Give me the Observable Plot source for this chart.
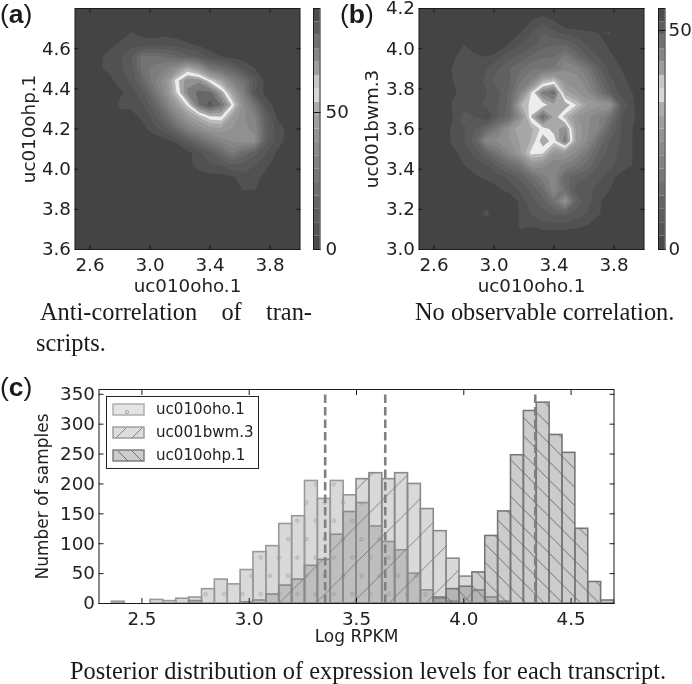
<!DOCTYPE html>
<html><head><meta charset="utf-8">
<script src="https://cdn.jsdelivr.net/npm/d3@7"></script>
<script src="https://cdn.jsdelivr.net/npm/@observablehq/plot@0.6"></script>
<style>
html,body{margin:0;padding:0;background:#fff;}
body{width:692px;height:684px;overflow:hidden;position:relative;filter:blur(0.3px);}
.abs{position:absolute;}
.abs svg{display:block;overflow:visible;max-width:none!important;}
.cap{position:absolute;font-family:"Liberation Serif",serif;font-size:24.4px;color:#1a1a1a;line-height:31px;white-space:nowrap;}
.tag{position:absolute;font-family:"Liberation Sans",sans-serif;font-size:26.5px;color:#1a1a1a;line-height:28px;}
.legend{position:absolute;left:106px;top:396px;width:151px;height:71px;background:#fff;border:1.2px solid #222;font-family:"DejaVu Sans",sans-serif;font-size:15.1px;color:#222;}
.legend svg{position:absolute;left:5px;}
.legend span{position:absolute;left:49px;white-space:nowrap;}
</style></head><body>
<svg width="0" height="0" style="position:absolute"><defs>
<pattern id="hatchCircle" patternUnits="userSpaceOnUse" width="18.3" height="36.6">
<circle cx="4.5" cy="4.5" r="1.6" fill="none" stroke="#999" stroke-width="0.8"/>
<circle cx="13.65" cy="22.8" r="1.6" fill="none" stroke="#999" stroke-width="0.8"/>
</pattern>
<pattern id="hatchUp" patternUnits="userSpaceOnUse" width="36.6" height="36.6">
<path d="M-4,4L4,-4M0,36.6L36.6,0M32.6,40.6L40.6,32.6" stroke="#777" stroke-width="0.9"/>
</pattern>
<pattern id="hatchDown" patternUnits="userSpaceOnUse" width="18.3" height="18.3">
<path d="M-3,-3L21.3,21.3M-3,15.3L3,21.3M15.3,-3L21.3,3" stroke="#666" stroke-width="0.9"/>
</pattern>
</defs></svg>

<div class="tag" style="left:0;top:0">(<b>a</b>)</div>
<div class="tag" style="left:340px;top:0">(<b>b</b>)</div>
<div class="tag" style="left:0;top:373px">(<b>c</b>)</div>
<div id="pa" class="abs" style="left:0;top:0"></div>
<div id="ca" class="abs" style="left:305px;top:0"></div>
<div id="pb" class="abs" style="left:346px;top:0"></div>
<div id="cb" class="abs" style="left:650px;top:0"></div>
<div id="pc" class="abs" style="left:0;top:370px"></div>
<div class="legend">
<svg width="33" height="13" style="top:6px"><rect x="1" y="1" width="31" height="11" fill="#e4e4e4" stroke="#aaa" stroke-width="1.4"/><circle cx="15" cy="9" r="1.6" fill="none" stroke="#999" stroke-width=".8"/></svg><span style="top:3px">uc010oho.1</span>
<svg width="33" height="13" style="top:29px"><rect x="1" y="1" width="31" height="11" fill="#ddd" stroke="#999" stroke-width="1.4"/><path d="M4,12L14,2M20,12L30,2" stroke="#777" stroke-width=".9"/></svg><span style="top:26px">uc001bwm.3</span>
<svg width="33" height="13" style="top:52px"><rect x="1" y="1" width="31" height="11" fill="#ccc" stroke="#777" stroke-width="1.4"/><path d="M6,2L16,12M20,2L30,12" stroke="#666" stroke-width=".9"/></svg><span style="top:49px">uc010ohp.1</span>
</div>
<div class="cap" style="left:40px;top:296px;width:272px;text-align:justify;text-align-last:justify;white-space:normal">Anti-correlation of tran-</div>
<div class="cap" style="left:36px;top:327px">scripts.</div>
<div class="cap" style="left:415px;top:296px">No observable correlation.</div>
<div class="cap" style="left:70px;top:655px">Posterior distribution of expression levels for each transcript.</div>

<script>
// ---------- Panel (a): 2-D sample density, rows from y=4.8 down to y=3.6, columns x=2.5..4.0
const densityA = [
[0,0,0,0,0,0,0,0,0,0,0,0,0,0,0,0,0,0,0,0,0],
[0,0,0,0,0,0,0,0,0,0,0,0,0,0,0,0,0,0,0,0,0],
[0,0,0,0,2,5,3,2,3,2,0,0,0,0,0,0,0,0,0,0,0],
[0,0,1,3,6,8,8,8,9,8,6,4,2,0,0,0,0,0,0,0,0],
[0,0,3,7,9,14,26,26,24,20,17,14,8,5,3,2,0,0,0,0,0],
[0,0,4,6,9,12,27,31,35,42,54,46,30,24,18,10,5,0,0,0,0],
[0,0,0,3,7,11,20,33,42,61,72,72,61,50,35,26,12,3,0,0,0],
[0,0,0,0,4,7,14,26,40,58,74,80,80,68,50,32,10,3,0,0,0],
[0,0,0,0,6,6,9,18,32,46,60,78,85,78,62,40,26,8,2,0,0],
[0,0,0,0,3,3,6,12,22,35,46,54,62,63,48,40,34,16,4,0,0],
[0,0,0,0,0,0,3,8,12,22,33,40,46,48,44,40,38,16,8,3,0],
[0,0,0,0,0,0,0,0,3,6,14,22,30,36,40,42,40,16,7,3,0],
[0,0,0,0,0,0,0,0,0,0,3,8,14,22,30,22,16,10,4,0,0],
[0,0,0,0,0,0,0,0,0,0,3,7,9,10,14,13,10,6,2,0,0],
[0,0,0,0,0,0,0,0,0,0,0,2,3,3,4,8,7,3,0,0,0],
[0,0,0,0,0,0,0,0,0,0,0,0,0,0,1,5.5,5,0,0,0,0],
[0,0,0,0,0,0,0,0,0,0,0,0,0,0,0,0,0,0,0,0,0],
[0,0,0,0,0,0,0,0,0,0,0,0,0,0,0,0,0,0,0,0,0],
[0,0,0,0,0,0,0,0,0,0,0,0,0,0,0,0,0,0,0,0,0],
[0,0,0,0,0,0,0,0,0,0,0,0,0,0,0,0,0,0,0,0,0],
[0,0,0,0,0,0,0,0,0,0,0,0,0,0,0,0,0,0,0,0,0]];
// ---------- Panel (b): rows from y=4.2 down to y=3.0, columns x=2.5..4.0
const densityB = [
[0,0,0,0,0,0,0,0,0,0,0,0,0,0,0,0,0,0,0,0,0],
[0,0,0,0,0,0,0,0,0,0,3,5,3,0,0,0,0,0,0,0,0],
[0,0,0,0,0,0,0,3,0,3,6,9,7,5,4,3.5,3,3.2,0,0,0],
[0,0,0,0,3,0,0,0,3.5,6,8,11,12,12,9,6,4,2.5,0,0,0],
[0,0,0,2,5.5,4,3,5,8,10,13,15,15,20,14,9,6,3.5,2,0,0],
[0,0,0,3.5,6,4.5,6,9,12,15,18,18,19,24,23,18,10,5,3,0,0],
[0,0,0,3,5,4,7,11,11,18,22,33,36,27,26,22,14,7,4,2,0],
[0,0,0,2.5,4,3.5,6,8,13,22,37,47,50,32,28,25,18,10,4.5,3,0],
[0,0,0,3.5,4.5,5,7,9,13,33,38,38,42,42,36.5,30,28,27,9,3.5,0],
[0,0,0,3,8,6,2.5,10,14,26,40,50,42,35,28,25,22,17,6,4,0],
[0,0,0,4,6,9,14,20,28,33,33,38,41,45,30,25,21,12,6,3,0],
[0,3,0,4,6,11,24,25,27,31,34,42,38,48,30,24,15,9,5.5,3,0],
[0,0,0,2,4.5,7,12,18,24,30,38,37,28,28,24,18,11,8,5,3,0],
[0,0,0,0,3,5,6,10,14,18,27,26,22,21,18,14,9,7,4.5,3,0],
[0,0,0,0,0,2.5,4,5,7,10,15,20,23,13,11,9,7,4,2,0,0],
[0,0,0,0,0,0,0,2.5,4.5,7,10,15,24,15,8,7,5,3,0,0,0],
[0,0,0,0,0,0,0,0,0,4,8,11,17,27,11,7,4,0,0,0,0],
[0,0,0,0,0,1,4.5,0,0,3.5,6.5,8,10,10,8,6,3.5,0,0,0,0],
[0,0,0,0,0,0,0,0,0,3.5,3.5,5,5,5,4,3,0,0,0,0,0],
[0,0,0,0,0,0,0,0,0,2,0,0,0,0,0,0,0,0,0,0,0],
[0,0,0,0,0,0,0,0,0,0,0,0,0,0,0,0,0,0,0,0,0]];
const grayStops = [0,0.06,0.2,0.35,0.5,0.6,0.64,0.66,0.68,0.72,0.8,0.9,1];
const grayRange = ["#444","#525252","#666","#808080","#999","#b0b0b0","#d8d8d8","#f8f8f8","#d8d8d8","#aaa","#888","#636363","#444"];
const xTicksTop = [2.6,3.0,3.4,3.8];
const yTicksA = [3.6,3.8,4.0,4.2,4.4,4.6];
const yTicksB = [3.0,3.2,3.4,3.6,3.8,4.0,4.2];
const TICK_FONT = 18.3;

const axisFont = {fontFamily:"DejaVu Sans, sans-serif", color:"#222", background:"transparent", overflow:"visible"};
const LIGHT = "#1a1a1a";

function inner(xt, yt){
  return [
    Plot.axisX(xt,{anchor:"bottom",tickSize:-4,tickFormat:()=>"",label:null,stroke:LIGHT}),
    Plot.axisX(xt,{anchor:"top",tickSize:-4,tickFormat:()=>"",label:null,stroke:LIGHT}),
    Plot.axisY(yt,{anchor:"left",tickSize:-4,tickFormat:()=>"",label:null,stroke:LIGHT}),
    Plot.axisY(yt,{anchor:"right",tickSize:-4,tickFormat:()=>"",label:null,stroke:LIGHT})
  ];
}
function densityPanel(grid,max,yDom,yTicks,yLabel,marginLeft,marginRight,yOffset){
  const step = max/18;
  const thresholds = d3.range(1,18).map(i=>i*step);
  const [y0,y1]=yDom;
  return Plot.plot({
    width:marginLeft+225+marginRight,height:300,
    marginLeft,marginRight,marginTop:8,marginBottom:51,
    style:axisFont,
    x:{domain:[2.5,4.0]},y:{domain:yDom},
    color:{type:"linear",domain:grayStops.map(t=>t*max),range:grayRange},
    marks:[
      Plot.frame({fill:"#444"}),
      Plot.contour(grid.flat(),{x1:2.5-0.0375,x2:4.0+0.0375,y1:y1+0.03,y2:y0-0.03,width:21,height:21,fill:Plot.identity,thresholds,clip:true,blur:0}),
      ...inner(xTicksTop,yTicks),
      Plot.axisX(xTicksTop,{anchor:"bottom",tickSize:0,tickPadding:8,fontSize:TICK_FONT,tickFormat:d3.format(".1f"),label:"uc010oho.1",labelAnchor:"center",labelOffset:42,labelArrow:"none"}),
      Plot.axisY(yTicks,{anchor:"left",tickSize:0,tickPadding:4,fontSize:TICK_FONT,tickFormat:d3.format(".1f"),label:yLabel,labelAnchor:"center",labelOffset:yOffset,labelArrow:"none"}),
      Plot.frame({stroke:"#1a1a1a",strokeWidth:1})
    ]
  });
}
function colorbar(max,ticks,tickPadding){
  const step = max/18;
  const levels=d3.range(0,18).map(i=>({lo:i*step,hi:(i+1)*step,mid:(i+0.5)*step}));
  return Plot.plot({
    width:45,height:300,marginLeft:8,marginRight:30.5,marginTop:8,marginBottom:51,
    style:axisFont,
    x:{domain:[0,1],axis:null},y:{domain:[0,max]},
    color:{type:"linear",domain:grayStops.map(t=>t*max),range:grayRange},
    marks:[
      Plot.rect(levels,{x1:0,x2:1,y1:"lo",y2:"hi",fill:"mid"}),
      Plot.axisY(ticks,{anchor:"right",tickSize:-6.5,tickPadding,fontSize:TICK_FONT,label:null,stroke:"#111"}),
      Plot.frame({stroke:"#1a1a1a"})
    ]
  });
}
document.getElementById("pa").append(densityPanel(densityA,88,[3.6,4.8],yTicksA,"uc010ohp.1",74.5,30,53.5));
document.getElementById("ca").append(colorbar(88,[0,50],12));
document.getElementById("pb").append(densityPanel(densityB,55,[3.0,4.2],yTicksB,"uc001bwm.3",72.5,10,54.5));
document.getElementById("cb").append(colorbar(55,[0,50],10));

// ---------- Panel (c): histograms over 40 bins of width 0.06 starting at 2.3
const binStart = 2.3, binWidth = 0.06;
const countsOho = [0,3,0,0,6,4,8,10,24,40,32,56,86,96,133,146,205,175,205,181,168,129,103,89,50,22,8,3,0,0,0,0,0,0,0,0,0,0,0,0];
const countsBwm = [0,0,0,0,0,0,0,4,0,0,0,2,5,15,30,40,63,73,115,153,208,218,208,218,200,158,121,75,45,22,10,3,0,0,0,0,0,0,0,0];
const countsOhp = [0,0,0,0,0,0,0,0,0,0,0,0,0,0,0,0,0,0,0,0,0,0,0,0,0,0,10,24,28,52,113,154,248,322,336,282,252,125,36,5];
const meanLines = [3.354,3.634,4.333];
const histXTicks = [2.5,3.0,3.5,4.0,4.5];
const histYTicks = [0,50,100,150,200,250,300,350];
const bins = a => a.map((v,i)=>({x1:binStart+i*binWidth,x2:binStart+(i+1)*binWidth,v})).filter(d=>d.v>0);
const layer = (a,hatch,stroke,fillOpacity)=>[
  Plot.rectY(bins(a),{x1:"x1",x2:"x2",y1:0,y2:"v",fill:"#808080",fillOpacity,stroke,strokeWidth:1.6}),
  Plot.rectY(bins(a),{x1:"x1",x2:"x2",y1:0,y2:"v",fill:hatch})
];
document.getElementById("pc").append(Plot.plot({
  width:692,height:290,marginLeft:98.5,marginRight:78.5,marginTop:19,marginBottom:57,
  style:axisFont,
  x:{domain:[2.3,4.7]},y:{domain:[0,358]},
  marks:[
    ...layer(countsOho,"url(#hatchCircle)","#999",0.3),
    ...layer(countsBwm,"url(#hatchUp)","#8a8a8a",0.3),
    ...layer(countsOhp,"url(#hatchDown)","#777",0.4),
    Plot.ruleX(meanLines,{y1:0,y2:355,stroke:"#808080",strokeWidth:2.6,strokeDasharray:"8.5 4"}),
    Plot.axisX(histXTicks,{anchor:"bottom",tickSize:-5,tickFormat:()=>"",label:null,stroke:LIGHT}),
    Plot.axisX(histXTicks,{anchor:"top",tickSize:-5,tickFormat:()=>"",label:null,stroke:LIGHT}),
    Plot.axisY(histYTicks,{anchor:"left",tickSize:-5,tickFormat:()=>"",label:null,stroke:LIGHT}),
    Plot.axisY(histYTicks,{anchor:"right",tickSize:-5,tickFormat:()=>"",label:null,stroke:LIGHT}),
    Plot.axisX(histXTicks,{anchor:"bottom",tickSize:0,tickPadding:8,fontSize:TICK_FONT,tickFormat:d3.format(".1f"),label:null}),
    Plot.axisY(histYTicks,{anchor:"left",tickSize:0,tickPadding:4,fontSize:TICK_FONT,label:null}),
    Plot.axisX(histXTicks,{anchor:"bottom",tickSize:0,tickFormat:()=>"",fontSize:17,label:"Log RPKM",labelAnchor:"center",labelOffset:38,labelArrow:"none"}),
    Plot.axisY(histYTicks,{anchor:"left",tickSize:0,tickFormat:()=>"",fontSize:17,label:"Number of samples",labelAnchor:"center",labelOffset:63,labelArrow:"none"}),
    Plot.frame({stroke:"#1a1a1a"})
  ]
}));
</script>
</body></html>
